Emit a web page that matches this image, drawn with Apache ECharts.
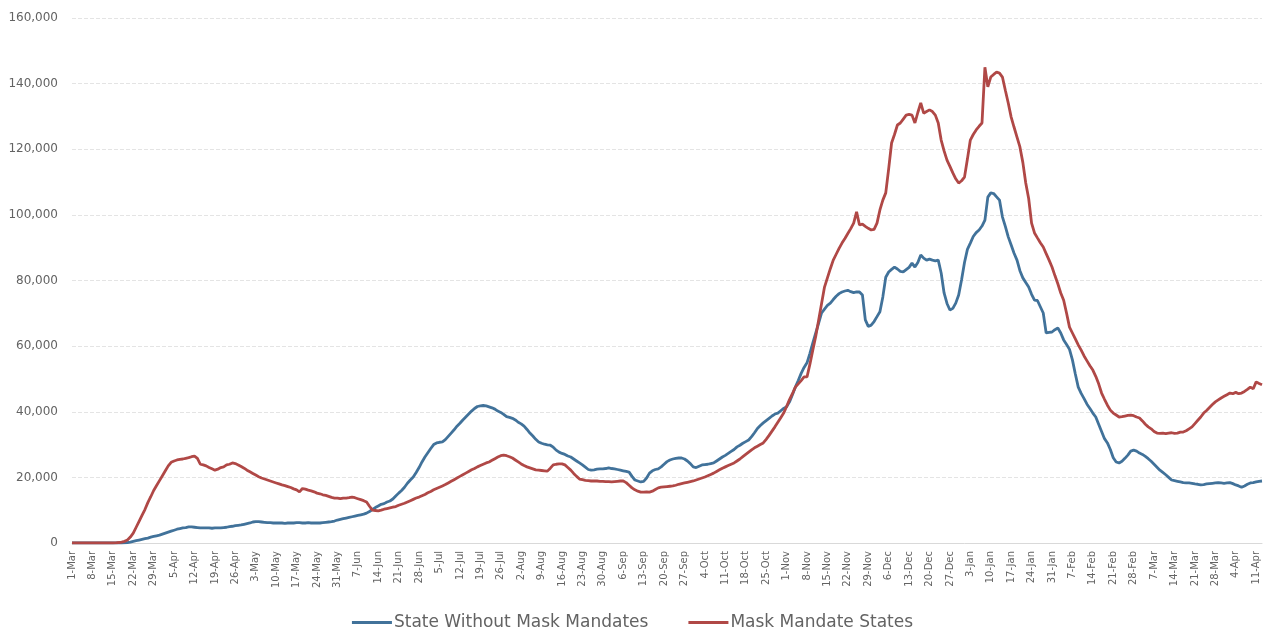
<!DOCTYPE html>
<html>
<head>
<meta charset="utf-8">
<script src="https://cdn.jsdelivr.net/npm/echarts@6/dist/echarts.min.js"></script>
<style>
  html, body { margin: 0; padding: 0; background: #fff; }
  #chart { width: 1265px; height: 636px; }
</style>
</head>
<body>
<div id="chart"></div>
<script>
// daily values, 1-Mar-2020 .. 13-Apr-2021, one row per week
var noMaskStates = [
    0,0,0,0,0,0,0,
    0,0,0,0,0,0,0,
    0,0,0,0,50,150,300,
    500,700,900,1100,1300,1500,1800,
    2000,2200,2400,2700,3000,3300,3600,
    3900,4200,4400,4600,4700,4900,4900,
    4800,4700,4600,4600,4600,4600,4500,
    4600,4600,4600,4700,4800,5000,5100,
    5300,5400,5500,5700,5900,6100,6400,
    6500,6500,6400,6300,6200,6200,6100,
    6100,6100,6100,6000,6100,6100,6100,
    6200,6200,6100,6100,6200,6100,6100,
    6100,6100,6200,6300,6400,6500,6700,
    7000,7200,7400,7600,7800,8000,8200,
    8400,8600,8800,9100,9600,10200,10800,
    11300,11800,12000,12500,12800,13400,14300,
    15200,16000,17000,18200,19200,20100,21500,
    23000,24700,26200,27500,28800,30000,30500,
    30700,30800,31500,32500,33500,34500,35600,
    36500,37500,38400,39300,40200,41000,41600,
    41800,41900,41800,41500,41200,40800,40200,
    39800,39200,38500,38300,38000,37500,36800,
    36300,35600,34600,33500,32600,31600,30800,
    30400,30100,29900,29800,29200,28300,27700,
    27300,27000,26500,26200,25600,25000,24400,
    23800,23100,22400,22200,22300,22500,22600,
    22600,22700,22900,22700,22600,22400,22200,
    22000,21800,21600,20300,19200,18900,18600,
    18800,19800,21300,22000,22400,22600,23200,
    24000,24800,25300,25600,25800,25900,25900,
    25600,25000,24200,23200,23000,23400,23800,
    23900,24000,24200,24400,25000,25600,26200,
    26700,27300,27900,28500,29300,29800,30400,
    30900,31400,32400,33600,34900,35800,36600,
    37300,38000,38700,39300,39600,40300,41000,
    41500,43000,45200,47500,49500,51700,53500,
    54900,57800,61000,64000,67000,70100,71300,
    72400,73100,74200,75200,76000,76500,76800,
    77000,76600,76300,76500,76500,75600,68000,
    66000,66400,67500,69000,70500,75000,81000,
    82600,83400,84100,83500,82800,82600,83300,
    84000,85300,84100,85500,87800,86800,86200,
    86500,86200,86000,86200,82300,76200,73000,
    71000,71500,73100,75600,80200,85500,89500,
    91400,93400,94600,95400,96600,98400,105400,
    106700,106500,105500,104500,99400,96500,93300,
    90800,88300,86200,83000,80800,79400,78000,
    75800,74000,73900,72000,70100,64000,64200,
    64300,65000,65500,64000,61900,60500,59000,
    55800,51500,47500,45600,44000,42300,41000,
    39600,38400,36200,34000,31800,30500,28500,
    26000,24700,24400,24900,25800,26800,28000,
    28300,28000,27400,27000,26400,25700,24900,
    24000,23100,22200,21500,20800,20000,19200,
    19000,18800,18600,18400,18300,18300,18200,
    18000,17900,17700,17800,18000,18100,18200,
    18300,18400,18300,18200,18300,18400,18100,
    17700,17400,17000,17400,17900,18300,18400,
    18600,18800,18900
];

var maskStates = [
    0,0,0,0,0,0,0,
    0,0,0,0,0,0,0,
    0,50,150,300,500,900,1800,
    3000,4800,6600,8400,10200,12300,14100,
    16000,17500,19000,20500,22000,23500,24600,
    25000,25300,25500,25600,25800,26000,26300,
    26500,25800,24000,23800,23500,23000,22600,
    22200,22500,23000,23200,23800,24000,24400,
    24200,23800,23300,22800,22200,21700,21200,
    20700,20200,19800,19500,19200,18900,18600,
    18300,18000,17700,17500,17200,16900,16500,
    16200,15600,16600,16400,16100,15900,15600,
    15200,15000,14700,14500,14200,13900,13700,
    13700,13500,13700,13700,13800,14000,13800,
    13500,13200,12900,12500,11200,10000,9900,
    9800,10000,10300,10500,10700,10900,11100,
    11500,11800,12100,12500,12900,13300,13700,
    14000,14400,14800,15300,15700,16200,16600,
    17000,17400,17800,18300,18800,19300,19800,
    20300,20800,21300,21800,22300,22700,23200,
    23600,24000,24400,24700,25200,25700,26200,
    26600,26800,26600,26300,25900,25300,24700,
    24100,23600,23200,22900,22600,22300,22200,
    22100,22000,21900,22800,23800,24000,24100,
    24100,23800,23000,22200,21200,20300,19500,
    19300,19100,19000,18900,18900,18900,18800,
    18800,18700,18700,18600,18700,18800,18900,
    18900,18400,17600,16800,16200,15800,15500,
    15500,15600,15500,15800,16300,16800,17000,
    17100,17200,17300,17400,17600,17900,18100,
    18300,18500,18700,18900,19200,19500,19800,
    20100,20500,20900,21300,21800,22300,22800,
    23200,23600,24000,24400,25000,25600,26300,
    27000,27700,28400,29000,29500,30000,30500,
    31600,32800,34100,35400,36800,38200,39600,
    41600,43700,45500,47500,48500,49500,50600,
    50600,54500,58800,63000,68000,73000,78000,
    80800,83600,86200,88000,89800,91400,92800,
    94300,95800,97500,100900,96900,97200,96500,
    95900,95400,95600,97500,101500,104500,106700,
    114000,121900,124500,127400,128000,129200,130400,
    130600,130400,128000,131200,134100,131000,131500,
    132000,131500,130400,128000,122800,119500,116700,
    114800,112800,111000,109700,110400,111500,117000,
    122800,124500,125900,127000,128000,145000,139000,
    142000,142800,143500,143200,142000,138000,134100,
    129800,126700,123700,120700,116000,109700,105000,
    97500,94500,93000,91500,90200,88200,86200,
    84100,81500,79000,76200,74000,70000,65800,
    64000,62200,60400,58800,57000,55500,54000,
    52700,50800,48500,45700,43800,42000,40500,
    39600,39000,38400,38500,38700,38900,39000,
    38800,38400,38100,37200,36200,35400,34800,
    34000,33500,33400,33500,33300,33500,33600,
    33400,33500,33800,33800,34200,34800,35400,
    36400,37400,38400,39600,40400,41300,42200,
    43000,43600,44200,44700,45200,45700,45500,
    45900,45500,45700,46200,46800,47500,47000,
    49100,48600,48200
];

var seriesNames = ['State Without Mask Mandates', 'Mask Mandate States'];
var monthNames = ['Jan','Feb','Mar','Apr','May','Jun','Jul','Aug','Sep','Oct','Nov','Dec'];

// category labels: one per day starting 1-Mar-2020
var days = [];
var start = Date.UTC(2020, 2, 1);
for (var i = 0; i < noMaskStates.length; i++) {
    var dt = new Date(start + i * 86400000);
    days.push(dt.getUTCDate() + '-' + monthNames[dt.getUTCMonth()]);
}

var chartDom = document.getElementById('chart');
var chart = echarts.init(chartDom);

var labelColor = '#636363';
var fontName = '"DejaVu Sans", Lato, sans-serif';

var option = {
    animation: false,
    backgroundColor: '#ffffff',
    color: ['#41729a', '#b04846'],
    textStyle: { fontFamily: fontName },
    grid: { left: 72, right: 3, top: 18, bottom: 93 },
    legend: {
        bottom: 0,
        left: 'center',
        icon: 'rect',
        itemWidth: 40,
        itemHeight: 3,
        itemGap: 40,
        textStyle: { color: labelColor, fontSize: 17, fontFamily: fontName, padding: [0, 0, 0, -3] },
        data: seriesNames
    },
    xAxis: {
        type: 'category',
        boundaryGap: false,
        data: days,
        axisLine: { lineStyle: { color: '#d9d9d9', width: 1 } },
        axisTick: { show: false },
        axisLabel: {
            interval: 6,
            rotate: 90,
            fontSize: 10,
            color: labelColor,
            margin: 8
        }
    },
    yAxis: {
        type: 'value',
        min: 0,
        max: 160000,
        interval: 20000,
        axisLine: { show: false },
        axisTick: { show: false },
        axisLabel: {
            color: labelColor,
            fontSize: 12,
            margin: 14,
            formatter: function (v) { return v.toLocaleString('en-US'); }
        },
        splitLine: { lineStyle: { color: '#e4e4e4', type: 'dashed', width: 1 } }
    },
    series: [
        {
            name: seriesNames[0],
            type: 'line',
            symbol: 'none',
            data: noMaskStates,
            lineStyle: { width: 2.8 },
            z: 2
        },
        {
            name: seriesNames[1],
            type: 'line',
            symbol: 'none',
            data: maskStates,
            lineStyle: { width: 2.8 },
            z: 3
        }
    ]
};

if (option && typeof option === 'object') {
    chart.setOption(option, true);
}
</script>
</body>
</html>
